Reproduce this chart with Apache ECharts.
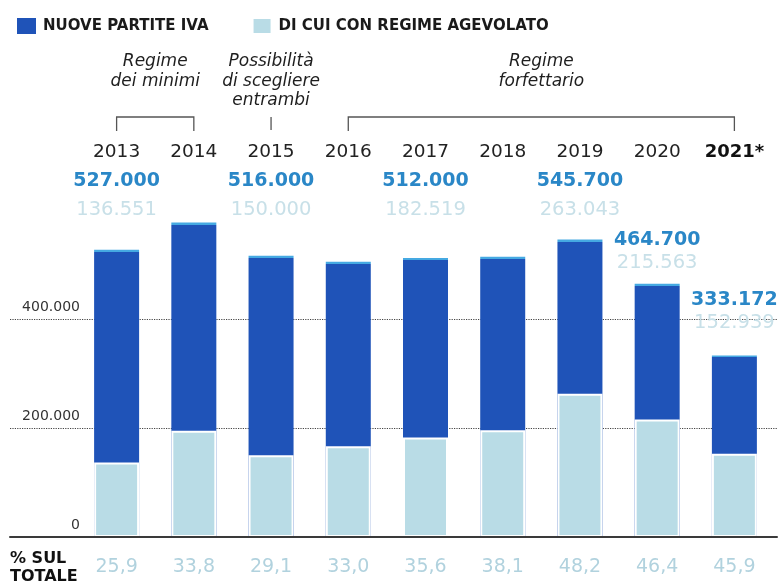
<!DOCTYPE html>
<html>
<head>
<meta charset="utf-8">
<script src="https://cdn.jsdelivr.net/npm/echarts@6/dist/echarts.min.js"></script>
<style>
html,body{margin:0;padding:0;background:#fff;}
#chart{width:779px;height:584px;}
</style>
</head>
<body>
<div id="chart"></div>
<script>
// ---- data ----
const categories = ['2013', '2014', '2015', '2016', '2017', '2018', '2019', '2020', '2021*'];
const totals = [527000, 577000, 516000, 505000, 512000, 514000, 545700, 464700, 333172];
const agevolato = [136551, 195000, 150000, 166600, 182519, 196000, 263043, 215563, 152939];
const pctLabels = ['25,9', '33,8', '29,1', '33,0', '35,6', '38,1', '48,2', '46,4', '45,9'];
const labelled = [true, false, true, false, true, false, true, true, true];
const yTickValues = [0, 200000, 400000];
const seriesNames = ['NUOVE PARTITE IVA', 'DI CUI CON REGIME AGEVOLATO'];
const periods = [
  { text: 'Regime\ndei minimi', from: 0, to: 1 },
  { text: 'Possibilità\ndi scegliere\nentrambi', from: 2, to: 2 },
  { text: 'Regime\nforfettario', from: 3, to: 8 }
];

// ---- helpers ----
const FONT = 'DejaVu Sans';
const DARK = '#1f53b8';
const EDGE = '#45a9e2';
const LIGHT = '#b9dce6';
const Y_MAX = 600000;
function fmt(n) { return String(n).replace(/\B(?=(\d{3})+(?!\d))/g, '.'); }

const chart = echarts.init(document.getElementById('chart'), null, { renderer: 'canvas' });
const plotHeight = 584 - 210 - 47;

// value labels over the bars for the last two years
const lateLabelDistance = { 7: 9, 8: 21 };

function darkFill(v) {
  const h = v / Y_MAX * plotHeight;
  const o = Math.min(0.2, 2 / h);
  return new echarts.graphic.LinearGradient(0, 0, 0, 1, [
    { offset: 0, color: EDGE }, { offset: o, color: EDGE },
    { offset: o, color: DARK }, { offset: 1, color: DARK }
  ]);
}

const option = {
  animation: false,
  textStyle: { fontFamily: FONT },
  legend: {
    left: 12, top: 12,
    itemWidth: 19, itemHeight: 16, itemGap: 43,
    icon: 'rect',
    data: [
      { name: seriesNames[0], itemStyle: { color: DARK } },
      { name: seriesNames[1], itemStyle: { color: LIGHT } }
    ],
    textStyle: { fontFamily: FONT, fontWeight: 'bold', fontSize: 15, color: '#1a1a1a', padding: [0, 0, 0, 2] }
  },
  grid: [
    { left: 10, right: 2, top: 210, bottom: 47 },
    { left: 78, right: 6, top: 210, bottom: 47 }
  ],
  xAxis: [
    {
      gridIndex: 0, type: 'category', data: [''], z: 10,
      axisLine: { show: true, lineStyle: { color: '#3a3a3a', width: 2 } },
      axisTick: { show: false }, axisLabel: { show: false }, splitLine: { show: false }
    },
    {
      gridIndex: 1, type: 'category', data: categories, position: 'bottom',
      axisLine: { show: false }, axisTick: { show: false },
      axisLabel: {
        interval: 0, margin: 21, fontFamily: FONT, fontSize: 19, color: '#b1d2de',
        formatter: (v, i) => pctLabels[i]
      }
    },
    {
      gridIndex: 1, type: 'category', data: categories, position: 'top',
      axisLine: { show: false }, axisTick: { show: false },
      axisLabel: {
        interval: 0, margin: -14,
        formatter: (v, i) => {
          const yr = i === categories.length - 1 ? '{yb|' + v + '}' : '{y|' + v + '}';
          const showRow = labelled[i] && i < 7;
          const l2 = showRow ? '{v|' + fmt(totals[i]) + '}' : '{v| }';
          const l3 = showRow ? '{a|' + fmt(agevolato[i]) + '}' : '{a| }';
          return yr + '\n' + l2 + '\n' + l3;
        },
        rich: {
          y: { fontFamily: FONT, fontSize: 18.5, color: '#222', lineHeight: 29 },
          yb: { fontFamily: FONT, fontSize: 18, fontWeight: 'bold', color: '#111', lineHeight: 29 },
          v: { fontFamily: FONT, fontSize: 19, fontWeight: 'bold', color: '#2a87c7', lineHeight: 29 },
          a: { fontFamily: FONT, fontSize: 19.5, color: '#c8e0e8', lineHeight: 28 }
        }
      }
    }
  ],
  yAxis: [
    {
      gridIndex: 0, type: 'value', min: 0, max: Y_MAX, interval: 200000,
      axisLine: { show: false }, axisTick: { show: false },
      splitLine: { show: true, showMinLine: false, showMaxLine: false, lineStyle: { type: 'dotted', color: '#444', width: 1.2 } },
      axisLabel: {
        inside: true, margin: 70, align: 'right', verticalAlign: 'bottom',
        padding: [0, 0, 5, 0], fontFamily: FONT, fontSize: 14, color: '#333', showMaxLabel: false,
        formatter: v => (yTickValues.indexOf(v) >= 0 ? fmt(v) : '')
      }
    },
    { gridIndex: 1, type: 'value', min: 0, max: Y_MAX, interval: 200000, show: false, splitLine: { show: false } }
  ],
  series: [
    {
      name: seriesNames[0], type: 'bar', xAxisIndex: 1, yAxisIndex: 1,
      barWidth: 45, z: 2,
      itemStyle: { color: DARK },
      data: totals.map((v, i) => {
        const item = { value: v, itemStyle: { color: darkFill(v) } };
        if (labelled[i] && i >= 7) {
          item.label = {
            show: true, position: 'top', distance: lateLabelDistance[i],
            formatter: () => '{v|' + fmt(totals[i]) + '}\n{a|' + fmt(agevolato[i]) + '}',
            rich: {
              v: { fontFamily: FONT, fontSize: 19, fontWeight: 'bold', color: '#2a87c7', lineHeight: 23 },
              a: { fontFamily: FONT, fontSize: 19.5, color: '#c8e0e8', lineHeight: 23 }
            }
          };
        }
        return item;
      })
    },
    {
      name: seriesNames[1], type: 'bar', xAxisIndex: 1, yAxisIndex: 1,
      barWidth: 45, barGap: '-100%', z: 3,
      itemStyle: { color: LIGHT, borderColor: '#fff', borderWidth: 2 },
      data: agevolato
    }
  ]
};
chart.setOption(option);

// annotations above the years, positioned on the category axis
const cx = categories.map(c => chart.convertToPixel({ xAxisIndex: 1 }, c));
const graphics = [];
periods.forEach(p => {
  const x0 = cx[p.from], x1 = cx[p.to];
  const mid = (x0 + x1) / 2;
  graphics.push({
    type: 'text', x: mid, y: 52,
    style: {
      text: p.text, fontFamily: FONT, fontStyle: 'italic', fontSize: 17, fill: '#1e1e1e',
      align: 'center', verticalAlign: 'top', lineHeight: 19.5
    }
  });
  if (p.from === p.to) {
    graphics.push({ type: 'line', shape: { x1: x0, y1: 117, x2: x0, y2: 130 }, style: { stroke: '#555', lineWidth: 1.3 } });
  } else {
    graphics.push({
      type: 'polyline',
      shape: { points: [[x0, 131], [x0, 117], [x1, 117], [x1, 131]], smooth: 0 },
      style: { stroke: '#555', lineWidth: 1.3, fill: null }
    });
  }
});
graphics.push({
  type: 'text', x: 10, y: 550,
  style: { text: '% SUL\nTOTALE', fontFamily: FONT, fontWeight: 'bold', fontSize: 16, fill: '#111', lineHeight: 18, verticalAlign: 'top' }
});
chart.setOption({ graphic: graphics });
</script>
</body>
</html>
